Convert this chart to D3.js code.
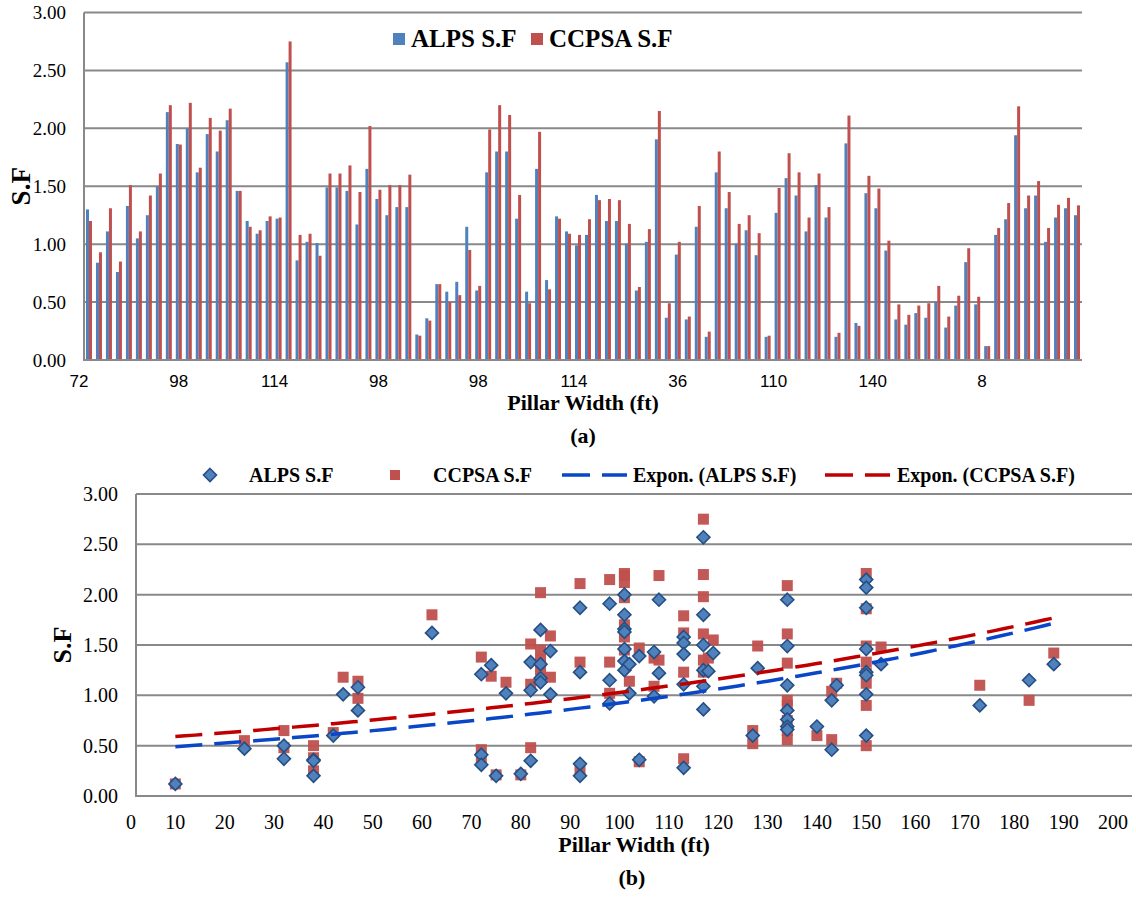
<!DOCTYPE html>
<html>
<head>
<meta charset="utf-8">
<script src="https://cdn.jsdelivr.net/npm/d3@7"></script>
<style>
  body { margin: 0; background: #fff; }
  svg text { font-family: "Liberation Serif", "Times New Roman", serif; fill: #000; }
  svg .cat-label { font-family: "Liberation Sans", Arial, sans-serif; }
</style>
</head>
<body>
<svg id="chart" width="1136" height="898"></svg>
<script>
// top chart: one label every 10th category
const barLabels = ["72", "98", "114", "98", "98", "114", "36", "110", "140", "8"];

const alpsSF = [
  1.30, 0.84, 1.11, 0.76, 1.33, 1.05, 1.25, 1.50, 2.14, 1.865,
  2.00, 1.62, 1.95, 1.80, 2.07, 1.46, 1.20, 1.09, 1.20, 1.22,
  2.57, 0.86, 1.02, 1.01, 1.49, 1.49, 1.46, 1.17, 1.65, 1.39,
  1.25, 1.32, 1.32, 0.22, 0.36, 0.655, 0.59, 0.675, 1.15, 0.60,
  1.62, 1.80, 1.80, 1.22, 0.59, 1.65, 0.69, 1.24, 1.11, 0.99,
  1.08, 1.425, 1.20, 1.20, 1.005, 0.60, 1.02, 1.905, 0.365, 0.91,
  0.35, 1.15, 0.20, 1.62, 1.31, 1.005, 1.12, 0.905, 0.20, 1.27,
  1.57, 1.42, 1.11, 1.51, 1.23, 0.20, 1.87, 0.32, 1.44, 1.31,
  0.945, 0.35, 0.305, 0.405, 0.365, 0.50, 0.28, 0.47, 0.845, 0.48,
  0.12, 1.08, 1.215, 1.94, 1.31, 1.42, 1.02, 1.23, 1.31, 1.25
];
const ccpsaSF = [
  1.20, 0.93, 1.31, 0.85, 1.51, 1.11, 1.42, 1.61, 2.20, 1.86,
  2.22, 1.66, 2.09, 1.98, 2.17, 1.46, 1.15, 1.12, 1.24, 1.23,
  2.75, 1.08, 1.09, 0.90, 1.61, 1.61, 1.68, 1.45, 2.02, 1.47,
  1.51, 1.51, 1.60, 0.21, 0.34, 0.655, 0.50, 0.56, 0.95, 0.64,
  1.99, 2.20, 2.115, 1.425, 0.49, 1.97, 0.61, 1.22, 1.09, 1.08,
  1.215, 1.38, 1.39, 1.38, 1.175, 0.63, 1.13, 2.15, 0.49, 1.02,
  0.375, 1.33, 0.245, 1.80, 1.45, 1.175, 1.25, 1.095, 0.21, 1.485,
  1.785, 1.62, 1.23, 1.61, 1.32, 0.235, 2.11, 0.295, 1.59, 1.48,
  1.03, 0.48, 0.39, 0.47, 0.49, 0.64, 0.375, 0.555, 0.965, 0.546,
  0.12, 1.14, 1.355, 2.19, 1.42, 1.545, 1.14, 1.34, 1.40, 1.335
];

// bottom chart: [pillar width, S.F]
const scatterAlps = [
  [10, 0.12], [24, 0.47], [32, 0.50], [32, 0.37], [38, 0.36], [38, 0.35], [38, 0.20],
  [42, 0.60], [44, 1.01], [47, 1.08], [47, 0.85], [62, 1.62],
  [72, 1.21], [72, 0.41], [72, 0.31], [74, 1.30], [75, 0.20], [77, 1.02], [80, 0.22],
  [82, 1.33], [82, 1.05], [82, 0.35], [84, 1.65], [84, 1.31], [84, 1.17], [84, 1.13],
  [86, 1.44], [86, 1.01], [92, 1.87], [92, 1.23], [92, 0.32], [92, 0.20],
  [98, 1.91], [98, 1.15], [98, 0.92],
  [101, 2.00], [101, 1.80], [101, 1.66], [101, 1.63], [101, 1.46], [101, 1.34], [101, 1.25],
  [102, 1.31], [102, 1.02], [104, 1.39], [104, 0.36], [107, 1.43], [107, 0.99],
  [108, 1.95], [108, 1.22],
  [113, 1.58], [113, 1.52], [113, 1.41], [113, 1.11], [113, 0.28],
  [117, 2.57], [117, 1.80], [117, 1.50], [117, 1.25], [117, 1.09], [117, 0.86],
  [118, 1.24], [119, 1.42], [127, 0.60], [128, 1.27],
  [134, 1.95], [134, 1.49], [134, 1.10], [134, 0.85], [134, 0.76], [134, 0.69], [134, 0.66],
  [140, 0.69], [143, 0.95], [143, 0.46], [144, 1.10],
  [150, 2.15], [150, 2.07], [150, 1.87], [150, 1.46], [150, 1.23], [150, 1.20], [150, 1.01], [150, 0.60],
  [153, 1.31], [173, 0.90], [183, 1.15], [188, 1.31]
];
const scatterCcpsa = [
  [10, 0.12], [24, 0.55], [32, 0.65], [32, 0.48], [38, 0.50], [38, 0.38], [38, 0.25],
  [42, 0.63], [44, 1.18], [47, 1.14], [47, 0.97], [62, 1.80],
  [72, 1.38], [72, 0.46], [72, 0.38], [74, 1.19], [75, 0.21], [77, 1.13], [80, 0.21],
  [82, 1.51], [82, 1.11], [82, 0.48], [84, 2.02], [84, 1.45], [84, 1.35], [84, 1.25],
  [86, 1.59], [86, 1.18], [92, 2.11], [92, 1.33], [92, 0.26],
  [98, 2.15], [98, 1.33], [98, 1.02],
  [101, 2.21], [101, 2.19], [101, 2.12], [101, 1.97], [101, 1.70], [101, 1.58], [101, 1.45],
  [102, 1.14], [104, 1.47], [104, 0.34], [107, 1.37], [107, 1.09], [108, 2.19], [108, 1.35],
  [113, 1.79], [113, 1.62], [113, 1.23], [113, 0.37],
  [117, 2.75], [117, 2.20], [117, 1.98], [117, 1.61], [117, 1.35], [117, 1.23],
  [118, 1.37], [119, 1.55], [127, 0.65], [127, 0.52], [128, 1.49],
  [134, 2.09], [134, 1.61], [134, 1.32], [134, 0.95], [134, 0.90], [134, 0.75], [134, 0.65], [134, 0.56],
  [140, 0.60], [143, 1.04], [143, 0.56], [144, 1.12],
  [150, 2.21], [150, 1.86], [150, 1.49], [150, 1.33], [150, 1.22], [150, 1.12], [150, 0.90], [150, 0.50],
  [153, 1.48], [173, 1.10], [183, 0.95], [188, 1.42]
];

// exponential trendlines y = c * e^(k x)
const trendAlps = { c: 0.4567, k: 0.00704 };
const trendCcpsa = { c: 0.5547, k: 0.00617 };

const yTickValues = [0, 0.5, 1, 1.5, 2, 2.5, 3];
const xTickValues = d3.range(0, 201, 10);

const blue = "#4f81bd";
const red = "#c0504d";
const gridColor = "#898989";
const fmt = d3.format(".2f");

const svg = d3.select("#chart");

// ---------- (a) bar chart ----------
const a = { left: 84, right: 1082, top: 12.5, bottom: 360 };
const xBand = d3.scaleBand()
  .domain(d3.range(alpsSF.length))
  .range([a.left, a.right])
  .paddingInner(0.4)
  .paddingOuter(0.2);
const xSub = d3.scaleBand().domain([0, 1]).range([0, xBand.bandwidth()]);
const yA = d3.scaleLinear().domain([0, 3]).range([a.bottom, a.top]);

const gA = svg.append("g");
gA.selectAll(".grid")
  .data(yTickValues.slice(1))
  .join("line")
  .attr("x1", a.left).attr("x2", a.right)
  .attr("y1", (d) => yA(d)).attr("y2", (d) => yA(d))
  .attr("stroke", gridColor).attr("stroke-width", 2);

const series = [
  { values: alpsSF, color: blue },
  { values: ccpsaSF, color: red },
];
series.forEach((s, si) => {
  gA.append("g")
    .selectAll("rect")
    .data(s.values)
    .join("rect")
    .attr("x", (d, i) => xBand(i) + xSub(si))
    .attr("width", xSub.bandwidth())
    .attr("y", (d) => yA(d))
    .attr("height", (d) => yA(0) - yA(d))
    .attr("fill", s.color);
});

gA.append("path")
  .attr("d", `M${a.left},${a.top}V${a.bottom}H${a.right}`)
  .attr("fill", "none").attr("stroke", gridColor).attr("stroke-width", 2);

gA.selectAll(".ytick")
  .data(yTickValues)
  .join("text")
  .attr("x", a.left - 18)
  .attr("y", (d) => yA(d))
  .attr("dy", "0.35em")
  .attr("text-anchor", "end")
  .attr("font-size", 19)
  .text(fmt);

gA.selectAll(".cat-label")
  .data(barLabels)
  .join("text")
  .attr("class", "cat-label")
  .attr("x", (d, i) => xBand(i * 10) + 2.5)
  .attr("y", 387)
  .attr("text-anchor", "end")
  .attr("font-size", 17)
  .text((d) => d);

gA.append("text")
  .attr("transform", `translate(30,${(a.top + a.bottom) / 2}) rotate(-90)`)
  .attr("text-anchor", "middle")
  .attr("font-size", 27).attr("font-weight", "bold")
  .text("S.F");

gA.append("text")
  .attr("x", (a.left + a.right) / 2).attr("y", 410)
  .attr("text-anchor", "middle")
  .attr("font-size", 22).attr("font-weight", "bold")
  .text("Pillar Width (ft)");

gA.append("text")
  .attr("x", (a.left + a.right) / 2).attr("y", 443)
  .attr("text-anchor", "middle")
  .attr("font-size", 22).attr("font-weight", "bold")
  .text("(a)");

const legA = gA.append("g");
[
  { label: "ALPS S.F", color: blue, x: 393 },
  { label: "CCPSA S.F", color: red, x: 531 },
].forEach((d) => {
  legA.append("rect").attr("x", d.x).attr("y", 33).attr("width", 12).attr("height", 12).attr("fill", d.color);
  legA.append("text").attr("x", d.x + 18).attr("y", 47)
    .attr("font-size", 25).attr("font-weight", "bold").text(d.label);
});

// ---------- (b) scatter chart ----------
const b = { left: 136, right: 1132, top: 494, bottom: 796 };
const xB = d3.scaleLinear().domain([0, 200]).range([126, 1113]);
const yB = d3.scaleLinear().domain([0, 3]).range([b.bottom, b.top]);

const gB = svg.append("g");
gB.selectAll(".grid")
  .data(yTickValues.slice(1))
  .join("line")
  .attr("x1", b.left).attr("x2", b.right)
  .attr("y1", (d) => yB(d)).attr("y2", (d) => yB(d))
  .attr("stroke", gridColor).attr("stroke-width", 2);

gB.append("path")
  .attr("d", `M${b.left},${b.top}V${b.bottom}H${b.right}`)
  .attr("fill", "none").attr("stroke", gridColor).attr("stroke-width", 2);

gB.selectAll(".ytick")
  .data(yTickValues)
  .join("text")
  .attr("x", 118)
  .attr("y", (d) => yB(d))
  .attr("dy", "0.35em")
  .attr("text-anchor", "end")
  .attr("font-size", 20)
  .text(fmt);

gB.selectAll(".xtick")
  .data(xTickValues)
  .join("text")
  .attr("x", (d) => xB(d) + (d === 0 ? 5 : 0))
  .attr("y", 829)
  .attr("text-anchor", "middle")
  .attr("font-size", 20)
  .text((d) => d);

// squares under diamonds
gB.append("g")
  .selectAll("rect")
  .data(scatterCcpsa)
  .join("rect")
  .attr("x", (d) => xB(d[0]) - 5.5)
  .attr("y", (d) => yB(d[1]) - 5.5)
  .attr("width", 11).attr("height", 11)
  .attr("fill", red).attr("fill-opacity", 0.95);

gB.append("g")
  .selectAll("path")
  .data(scatterAlps)
  .join("path")
  .attr("transform", (d) => `translate(${xB(d[0])},${yB(d[1])})`)
  .attr("d", "M0,-6.5L6.5,0L0,6.5L-6.5,0Z")
  .attr("fill", blue).attr("stroke", "#254f82").attr("stroke-width", 1.6);

const trendLine = d3.line().x((d) => xB(d[0])).y((d) => yB(d[1]));
[
  { pts: scatterCcpsa, fit: trendCcpsa, color: "#c00000" },
  { pts: scatterAlps, fit: trendAlps, color: "#0a47c8" },
].forEach((t) => {
  const [x0, x1] = d3.extent(t.pts, (d) => d[0]);
  const line = d3.range(x0, x1 + 0.01, 2).map((x) => [x, t.fit.c * Math.exp(t.fit.k * x)]);
  gB.append("path")
    .attr("d", trendLine(line))
    .attr("fill", "none")
    .attr("stroke", t.color)
    .attr("stroke-width", 3.5)
    .attr("stroke-dasharray", "27,12");
});

gB.append("text")
  .attr("transform", `translate(71,${(b.top + b.bottom) / 2}) rotate(-90)`)
  .attr("text-anchor", "middle")
  .attr("font-size", 26).attr("font-weight", "bold")
  .text("S.F");

gB.append("text")
  .attr("x", 634).attr("y", 852)
  .attr("text-anchor", "middle")
  .attr("font-size", 22).attr("font-weight", "bold")
  .text("Pillar Width (ft)");

gB.append("text")
  .attr("x", 632).attr("y", 885)
  .attr("text-anchor", "middle")
  .attr("font-size", 22).attr("font-weight", "bold")
  .text("(b)");

const legB = gB.append("g");
legB.append("path").attr("transform", "translate(210,475)")
  .attr("d", "M0,-6.5L6.5,0L0,6.5L-6.5,0Z")
  .attr("fill", blue).attr("stroke", "#254f82").attr("stroke-width", 1.6);
legB.append("text").attr("x", 249).attr("y", 482).attr("font-size", 20).attr("font-weight", "bold").text("ALPS S.F");
legB.append("rect").attr("x", 390).attr("y", 470).attr("width", 10).attr("height", 10).attr("fill", red);
legB.append("text").attr("x", 433).attr("y", 482).attr("font-size", 20).attr("font-weight", "bold").text("CCPSA S.F");
legB.append("line").attr("x1", 562).attr("x2", 627).attr("y1", 475).attr("y2", 475)
  .attr("stroke", "#0a47c8").attr("stroke-width", 3.5).attr("stroke-dasharray", "28,12");
legB.append("text").attr("x", 633).attr("y", 482).attr("font-size", 20).attr("font-weight", "bold").text("Expon. (ALPS S.F)");
legB.append("line").attr("x1", 825).attr("x2", 890).attr("y1", 475).attr("y2", 475)
  .attr("stroke", "#c00000").attr("stroke-width", 3.5).attr("stroke-dasharray", "28,12");
legB.append("text").attr("x", 897).attr("y", 482).attr("font-size", 20).attr("font-weight", "bold").text("Expon. (CCPSA S.F)");
</script>
</body>
</html>
